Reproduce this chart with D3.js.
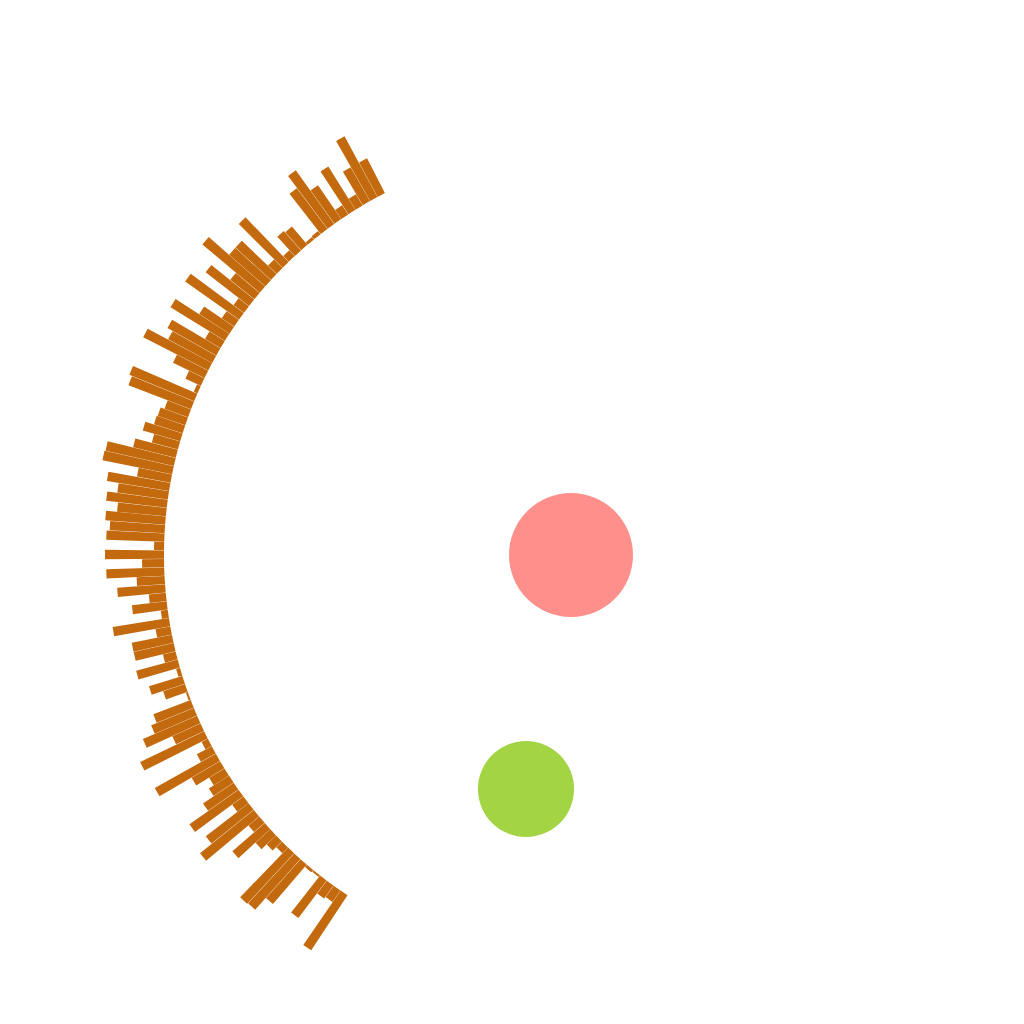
<!DOCTYPE html>
<html>
<head>
<meta charset="utf-8">
<script src="https://cdn.jsdelivr.net/npm/d3@7"></script>
<style>
  html, body { margin: 0; padding: 0; background: #ffffff; }
  svg { display: block; }
</style>
</head>
<body>
<svg id="chart" width="1024" height="1024"></svg>
<script>
// ---- data ----
const values = [66,14,16,47,2,3,52,68,69,8,
                13,20,43,14,69,54,14,60,37,24,
                18,33,70,17,7,71,31,59,46,40,
                2,23,35,4,43,13,41,41,15,57,
                7,35,17,48,28,58,22,59,10,58,
                55,60,49,61,51,63,34,71,70,44,
                27,39,30,29,25,67,70,4,17,35,73,
                50,56,18,64,36,15,66,13,55,31,
                75,48,48,12,62,8,26,24,3,4,51,
                66,41,11,51,13,39,69,39];
const categories = values.map((_, i) => "item" + (i + 1));
const bubbleNames = ["A", "B"];
const bubbleValues = [100, 60];

// ---- layout ----
const cx = 571, cy = 555;
const innerR = 407;
const deg = Math.PI / 180;
const barColor = "#c46a0e";
const bubbleColors = ["#ff8f8a", "#a3d444"];

const svg = d3.select("#chart");
const g = svg.append("g").attr("transform", `translate(${cx},${cy})`);

const x = d3.scaleBand()
  .domain(categories)
  .range([-146.7 * deg, -27.2 * deg])
  .paddingInner(0.03)
  .paddingOuter(0.01);

const y = d3.scaleLinear()
  .domain([0, 80])
  .range([innerR, innerR + 80]);

const rows = categories.map((c, i) => ({ c, v: values[i] }));

const arc = d3.arc()
  .innerRadius(innerR)
  .outerRadius(d => y(d.v))
  .startAngle(d => x(d.c))
  .endAngle(d => x(d.c) + x.bandwidth());

g.append("g").selectAll("path")
  .data(rows)
  .join("path")
  .attr("d", arc)
  .attr("fill", barColor);

// bubbles
const r = d3.scaleSqrt().domain([0, 100]).range([0, 62]);
const bubbleOffsets = [[0, 0], [-45, 234]];
g.append("g").selectAll("circle")
  .data(bubbleNames.map((n, i) => ({ n, v: bubbleValues[i], o: bubbleOffsets[i], col: bubbleColors[i] })))
  .join("circle")
  .attr("cx", d => d.o[0])
  .attr("cy", d => d.o[1])
  .attr("r", d => r(d.v))
  .attr("fill", d => d.col);
</script>
</body>
</html>
